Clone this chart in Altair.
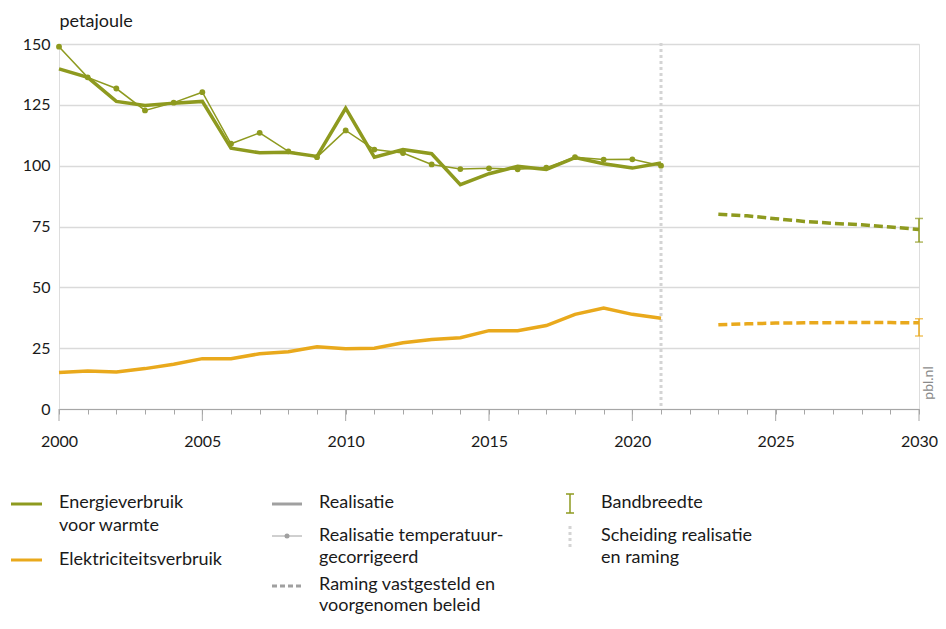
import altair as alt
import pandas as pd

# ---------------- data ----------------
years = list(range(2000, 2022))
heat_real = [139.8, 136.3, 126.4, 124.7, 125.7, 126.4, 107.2, 105.3, 105.5, 103.8, 123.6,
             103.5, 106.6, 104.9, 92.2, 96.7, 99.7, 98.4, 103.3, 100.8, 99.0, 101.1]
heat_temp = [148.9, 136.3, 131.7, 122.7, 125.9, 130.2, 109.0, 113.5, 105.9, 103.5, 114.5,
             106.6, 105.2, 100.5, 98.6, 98.9, 98.5, 99.2, 103.5, 102.5, 102.6, 100.0]
elec_real = [15.0, 15.6, 15.2, 16.6, 18.4, 20.7, 20.7, 22.7, 23.5, 25.6, 24.8,
             25.0, 27.2, 28.6, 29.3, 32.2, 32.2, 34.3, 38.9, 41.5, 38.9, 37.3]
proj_years = list(range(2023, 2031))
heat_proj = [80.0, 79.4, 78.2, 77.1, 76.3, 75.7, 74.8, 73.8]
elec_proj = [34.6, 35.0, 35.3, 35.4, 35.5, 35.5, 35.5, 35.4]
band_year = [2030]
heat_band_low, heat_band_high = [68.6], [78.3]
elec_band_low, elec_band_high = [30.0], [37.1]
split_year = [2021]
major_years = [2000, 2005, 2010, 2015, 2020, 2025, 2030]
minor_years = list(range(2000, 2031))
y_ticks = [0, 25, 50, 75, 100, 125, 150]

OLIVE = "#8e9a1f"
YELLOW = "#e9a91c"
GREY = "#a6a6a6"
TXT = "#1a1a1a"
FONT = "Lato"

W, H = 860, 365
TOP = 36  # top padding -> plot top at page y 44

xs = alt.Scale(domain=[2000, 2030], nice=False, zero=False)
ys = alt.Scale(domain=[0, 150], nice=False)
xaxis = alt.Axis(values=minor_years, labelExpr="datum.value % 5 === 0 ? datum.value : ''",
                 format="d", tickSize=5, tickColor=GREY, domainColor=GREY, tickWidth=1,
                 domainWidth=1, grid=False, labelFontSize=16, labelFont=FONT, labelColor=TXT,
                 labelPadding=19, title=None, labelFlush=False)
yaxis = alt.Axis(values=y_ticks, grid=True, gridColor="#dadada", gridWidth=1.5, domain=False,
                 ticks=False, labelFontSize=16, labelFont=FONT, labelColor=TXT, labelPadding=9,
                 title="petajoule", titleAngle=0, titleAlign="left", titleBaseline="alphabetic",
                 titleX=0, titleY=-18, titleFontSize=18, titleFont=FONT, titleFontWeight="normal",
                 titleColor=TXT)

X = alt.X("year:Q", scale=xs, axis=xaxis)
Y = alt.Y("value:Q", scale=ys, axis=yaxis)

df_heat = pd.DataFrame({"year": years, "value": heat_real})
df_temp = pd.DataFrame({"year": years, "value": heat_temp})
df_elec = pd.DataFrame({"year": years, "value": elec_real})
df_hproj = pd.DataFrame({"year": proj_years, "value": heat_proj})
df_eproj = pd.DataFrame({"year": proj_years, "value": elec_proj})
df_hband = pd.DataFrame({"year": band_year, "value": heat_band_low, "high": heat_band_high})
df_eband = pd.DataFrame({"year": band_year, "value": elec_band_low, "high": elec_band_high})
df_split = pd.DataFrame({"year": split_year})
df_major = pd.DataFrame({"year": major_years})
one = pd.DataFrame({"a": [0]})

layers = []

# separator
layers.append(alt.Chart(df_split).mark_rule(color="#d4d4d4", strokeWidth=3, strokeDash=[3, 3]).encode(
    x=X, y=alt.value(-1), y2=alt.value(H)))

# major ticks
layers.append(alt.Chart(df_major).mark_rule(color=GREY, strokeWidth=1).encode(
    x=X, y=alt.value(H), y2=alt.value(H + 12)))

# lines
layers.append(alt.Chart(df_elec).mark_line(color=YELLOW, strokeWidth=3.5).encode(x=X, y=Y))
layers.append(alt.Chart(df_temp).mark_line(color=OLIVE, strokeWidth=1.5,
                                           point=alt.OverlayMarkDef(size=34, filled=True, color=OLIVE, opacity=1)
                                           ).encode(x=X, y=Y))
layers.append(alt.Chart(df_heat).mark_line(color=OLIVE, strokeWidth=3.5).encode(x=X, y=Y))
layers.append(alt.Chart(df_hproj).mark_line(color=OLIVE, strokeWidth=3.5, strokeDash=[9, 4]).encode(x=X, y=Y))
layers.append(alt.Chart(df_eproj).mark_line(color=YELLOW, strokeWidth=3.5, strokeDash=[9, 4]).encode(x=X, y=Y))

# bands
for dfb, col in [(df_hband, OLIVE), (df_eband, YELLOW)]:
    layers.append(alt.Chart(dfb).mark_rule(color=col, strokeWidth=1.5).encode(
        x=X, y=Y, y2="high:Q"))
    layers.append(alt.Chart(dfb).mark_tick(color=col, thickness=1.5, size=8, orient="horizontal").encode(
        x=X, y=Y))
    layers.append(alt.Chart(dfb).mark_tick(color=col, thickness=1.5, size=8, orient="horizontal").encode(
        x=X, y=alt.Y("high:Q", scale=ys, axis=yaxis)))

# pbl.nl
layers.append(alt.Chart(one).mark_text(angle=270, align="center", baseline="middle", fontSize=14,
                                       font=FONT, color="#8a8a8a").encode(
    x=alt.value(W + 10), y=alt.value(339), text=alt.value("pbl.nl")))

# ---------------- legend ----------------
OY = 8 + TOP  # page y of plot origin


def py(page_y):
    return page_y - OY


def leg_line(x1, x2, y, color, width=3, dash=None):
    kw = dict(color=color, strokeWidth=width)
    if dash:
        kw["strokeDash"] = dash
    return alt.Chart(one).mark_rule(**kw).encode(x=alt.value(x1), x2=alt.value(x2), y=alt.value(py(y)))


def leg_text(x, y, t):
    return alt.Chart(one).mark_text(align="left", baseline="middle", fontSize=18, font=FONT,
                                    color=TXT).encode(x=alt.value(x), y=alt.value(py(y)), text=alt.value(t))


LG = "#a0a0a0"
layers += [
    leg_line(-48, -17, 504, OLIVE),
    leg_text(0, 503, "Energieverbruik"),
    leg_text(0, 526, "voor warmte"),
    leg_line(-48, -17, 560, YELLOW),
    leg_text(0, 560, "Elektriciteitsverbruik"),
    leg_line(213, 243, 504, LG),
    leg_text(260, 503, "Realisatie"),
    leg_line(213, 243, 536, LG, width=1),
    alt.Chart(one).mark_point(filled=True, size=25, color=LG, opacity=1).encode(
        x=alt.value(228), y=alt.value(py(536))),
    leg_text(260, 536, "Realisatie temperatuur-"),
    leg_text(260, 558, "gecorrigeerd"),
    leg_line(213, 243, 586, LG, dash=[5, 3]),
    leg_text(260, 585, "Raming vastgesteld en"),
    leg_text(260, 606, "voorgenomen beleid"),
    alt.Chart(one).mark_rule(color=OLIVE, strokeWidth=1.5).encode(
        x=alt.value(511), y=alt.value(py(494)), y2=alt.value(py(513))),
    alt.Chart(one).mark_rule(color=OLIVE, strokeWidth=1.5).encode(
        x=alt.value(507), x2=alt.value(515), y=alt.value(py(494))),
    alt.Chart(one).mark_rule(color=OLIVE, strokeWidth=1.5).encode(
        x=alt.value(507), x2=alt.value(515), y=alt.value(py(513))),
    leg_text(542, 503, "Bandbreedte"),
    alt.Chart(one).mark_rule(color="#d4d4d4", strokeWidth=3, strokeDash=[3, 3]).encode(
        x=alt.value(511), y=alt.value(py(526)), y2=alt.value(py(549))),
    leg_text(542, 536, "Scheiding realisatie"),
    leg_text(542, 558, "en raming"),
]

chart = alt.layer(*layers).properties(
    width=W, height=H,
    autosize=alt.AutoSizeParams(type="none"),
    padding={"left": 51, "top": TOP, "right": 19, "bottom": 208},
).configure_view(stroke=None).configure(background="white")

chart.save("out.html", embed_options={"renderer": "svg", "actions": False})
